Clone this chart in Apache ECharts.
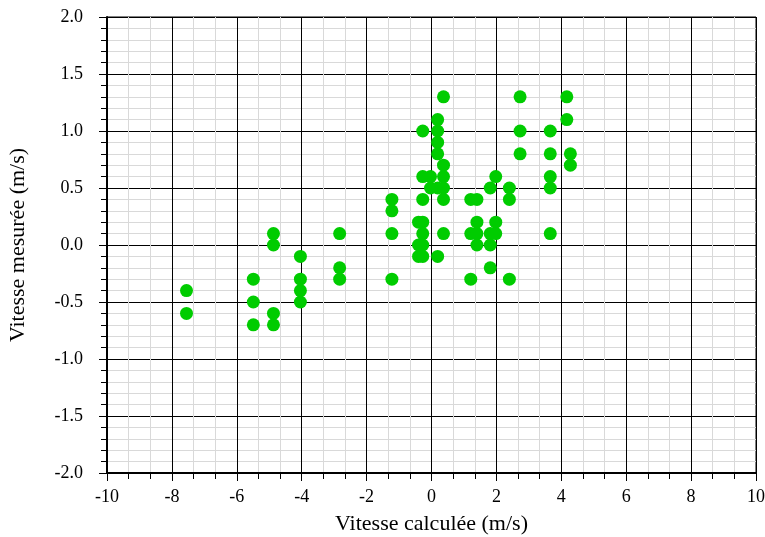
<!DOCTYPE html>
<html>
<head>
<meta charset="utf-8">
<script src="https://cdn.jsdelivr.net/npm/echarts@6/dist/echarts.min.js"></script>
<style>html,body{margin:0;padding:0;background:#fff}#c{width:765px;height:537px}</style>
</head>
<body>
<div id="c"></div>
<script>
// Calculated speed (m/s) for each measured point
const xCalc = [
  -7.55, -7.55,
  -5.49, -5.49, -5.49,
  -4.87, -4.87, -4.87, -4.87,
  -4.04, -4.04, -4.04, -4.04,
  -2.83, -2.83, -2.83,
  -1.22, -1.22, -1.22, -1.22,
  -0.40, -0.40, -0.40,
  -0.27, -0.27, -0.27, -0.27, -0.27, -0.27, -0.27,
  -0.03, -0.03,
  0.19, 0.19, 0.19, 0.19, 0.19, 0.19,
  0.37, 0.37, 0.37, 0.37, 0.37, 0.37,
  1.21, 1.21, 1.21,
  1.40, 1.40, 1.40, 1.40,
  1.81, 1.81, 1.81, 1.81,
  1.98, 1.98, 1.98,
  2.40, 2.40, 2.40,
  2.73, 2.73, 2.73,
  3.66, 3.66, 3.66, 3.66, 3.66,
  4.17, 4.17,
  4.28, 4.28
];
// Measured speed (m/s)
const yMeas = [
  -0.4, -0.6,
  -0.3, -0.5, -0.7,
  0.1, 0.0, -0.6, -0.7,
  -0.1, -0.3, -0.4, -0.5,
  0.1, -0.2, -0.3,
  0.4, 0.3, 0.1, -0.3,
  0.2, 0.0, -0.1,
  1.0, 0.6, 0.4, 0.2, 0.1, 0.0, -0.1,
  0.6, 0.5,
  1.1, 1.0, 0.9, 0.8, 0.5, -0.1,
  1.3, 0.7, 0.6, 0.5, 0.4, 0.1,
  0.4, 0.1, -0.3,
  0.4, 0.2, 0.1, 0.0,
  0.5, 0.1, 0.0, -0.2,
  0.6, 0.2, 0.1,
  0.5, 0.4, -0.3,
  1.3, 1.0, 0.8,
  1.0, 0.8, 0.6, 0.5, 0.1,
  1.3, 1.1,
  0.8, 0.7
];
const xTitle = 'Vitesse calculée (m/s)';
const yTitle = 'Vitesse mesurée (m/s)';

const pts = xCalc.map((x, i) => [x, yMeas[i]]);
const font = '"Liberation Serif", "DejaVu Serif", serif';

const chart = echarts.init(document.getElementById('c'), null, {renderer: 'canvas'});
chart.setOption({
  animation: false,
  backgroundColor: '#ffffff',
  grid: {left: 107, right: 9, top: 17, bottom: 64, show: true, borderColor: '#000', borderWidth: 1,
    containLabel: false, outerBoundsMode: 'none'},
  xAxis: {
    type: 'value', min: -10, max: 10, interval: 2,
    name: xTitle, nameLocation: 'middle', nameGap: 40,
    nameTextStyle: {fontFamily: font, fontSize: 22, color: '#000'},
    axisLine: {show: true, onZero: false, lineStyle: {color: '#000', width: 2}},
    axisTick: {show: true, inside: false, length: 8, lineStyle: {color: '#000', width: 1}},
    minorTick: {show: true, splitNumber: 3, length: 6, lineStyle: {color: '#000', width: 1}},
    axisLabel: {fontFamily: font, fontSize: 18, color: '#000', margin: 15},
    splitLine: {show: true, lineStyle: {color: '#000', width: 1}},
    minorSplitLine: {show: true, lineStyle: {color: '#d9d9d9', width: 1}}
  },
  yAxis: {
    type: 'value', min: -2, max: 2, interval: 0.5,
    name: yTitle, nameLocation: 'middle', nameGap: 78, nameRotate: 90,
    nameTextStyle: {fontFamily: font, fontSize: 22, color: '#000'},
    axisLine: {show: true, onZero: false, lineStyle: {color: '#000', width: 2}},
    axisTick: {show: true, inside: false, length: 8, lineStyle: {color: '#000', width: 1}},
    minorTick: {show: true, splitNumber: 5, length: 6, lineStyle: {color: '#000', width: 1}},
    axisLabel: {fontFamily: font, fontSize: 18, color: '#000', margin: 24,
      formatter: v => v.toFixed(1)},
    splitLine: {show: true, lineStyle: {color: '#000', width: 1}},
    minorSplitLine: {show: true, lineStyle: {color: '#d9d9d9', width: 1}}
  },
  series: [{
    type: 'scatter',
    data: pts,
    symbol: 'circle',
    symbolSize: 13,
    itemStyle: {color: '#00cc00', opacity: 1},
    z: 5
  }]
});
</script>
</body>
</html>
